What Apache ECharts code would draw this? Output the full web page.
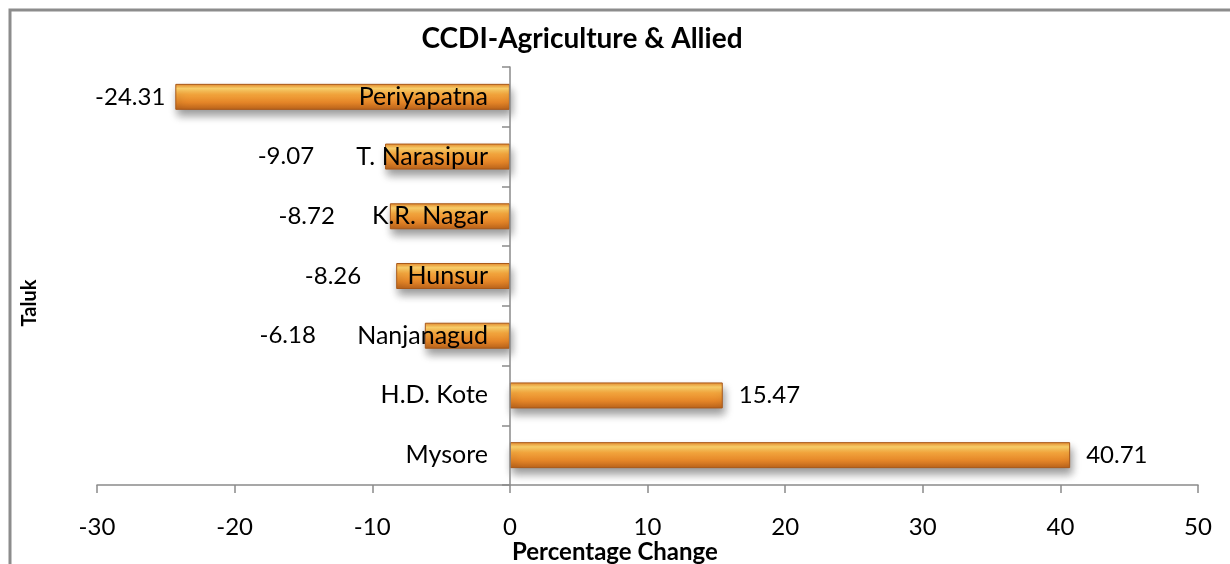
<!DOCTYPE html>
<html>
<head>
<meta charset="utf-8">
<script src="https://cdn.jsdelivr.net/npm/echarts@6/dist/echarts.min.js"></script>
<style>
  html, body { margin: 0; padding: 0; background: #fff; }
  #container { width: 1230px; height: 564px; }
</style>
</head>
<body>
<div id="container"></div>
<script>
// data (bottom to top)
var taluks = ['Mysore', 'H.D. Kote', 'Nanjanagud', 'Hunsur', 'K.R. Nagar', 'T. Narasipur', 'Periyapatna'];
var changes = [40.71, 15.47, -6.18, -8.26, -8.72, -9.07, -24.31];
var xTicks = [-30, -20, -10, 0, 10, 20, 30, 40, 50];

var dom = document.getElementById('container');
var myChart = echarts.init(dom, null, {
  renderer: 'canvas',
  useDirtyRect: false
});

var font = 'Lato, "Open Sans", sans-serif';

// gap between bar end and value label (labels were nudged in the original)
var gaps = { 'Nanjanagud': 109, 'Hunsur': 35, 'K.R. Nagar': 55, 'T. Narasipur': 71, 'Periyapatna': 10 };

var barFill = new echarts.graphic.LinearGradient(0, 0, 0, 1, [
  { offset: 0, color: '#e3862a' },
  { offset: 0.18, color: '#ffd46c' },
  { offset: 0.4, color: '#f7a83e' },
  { offset: 0.72, color: '#e38427' },
  { offset: 1, color: '#b8621b' }
]);

var seriesData = changes.map(function (v, i) {
  var neg = v < 0;
  return {
    value: v,
    label: {
      position: neg ? 'left' : 'right',
      distance: neg ? gaps[taluks[i]] : 16
    }
  };
});

option = {
  animation: false,
  title: {
    text: 'CCDI-Agriculture & Allied',
    left: 577,
    top: 20,
    textAlign: 'center',
    textStyle: { fontFamily: font, fontWeight: 'bold', fontSize: 28, color: '#000' }
  },
  graphic: [
    {
      type: 'rect',
      shape: { x: 10, y: 10, width: 1300, height: 700 },
      style: { fill: 'none', stroke: '#8c8c8c', lineWidth: 3 }
    },
    {
      type: 'text',
      x: 30,
      y: 303,
      rotation: Math.PI / 2,
      style: {
        text: 'Taluk',
        fontFamily: font,
        fontWeight: 'bold',
        fontSize: 20,
        fill: '#000',
        align: 'center',
        verticalAlign: 'middle'
      }
    },
    {
      type: 'text',
      x: 512,
      y: 552,
      style: {
        text: 'Percentage Change',
        fontFamily: font,
        fontWeight: 'bold',
        fontSize: 24,
        fill: '#000',
        align: 'left',
        verticalAlign: 'middle'
      }
    }
  ],
  grid: {
    left: 97,
    right: 32,
    top: 67,
    bottom: 79,
    outerBoundsMode: 'none',
    containLabel: false
  },
  xAxis: {
    type: 'value',
    min: -30,
    max: 50,
    interval: 10,
    splitLine: { show: false },
    axisLine: { show: true, lineStyle: { color: '#8a8a8a', width: 1.5 } },
    axisTick: { show: true, length: 8, lineStyle: { color: '#8a8a8a', width: 1.5 } },
    axisLabel: {
      margin: 30,
      fontFamily: font,
      fontSize: 24,
      color: '#000',
      customValues: xTicks
    }
  },
  yAxis: {
    type: 'category',
    data: taluks,
    z: 5,
    // put the axis at x = 0 of the value axis (0 sits 3/8 of the way across)
    offset: -413,
    axisLine: { show: true, onZero: false, lineStyle: { color: '#8a8a8a', width: 1.5 } },
    axisTick: { show: true, length: 8, lineStyle: { color: '#8a8a8a', width: 1.5 } },
    axisLabel: {
      margin: 22,
      fontFamily: font,
      fontSize: 25,
      color: '#000'
    }
  },
  series: [
    {
      type: 'bar',
      data: seriesData,
      barWidth: 26,
      itemStyle: {
        color: barFill,
        borderColor: '#a8591a',
        borderWidth: 1,
        shadowColor: 'rgba(0,0,0,0.4)',
        shadowBlur: 9,
        shadowOffsetX: 2,
        shadowOffsetY: 6
      },
      label: {
        show: true,
        fontFamily: font,
        fontSize: 24,
        color: '#000',
        formatter: function (p) { return p.value.toFixed(2); }
      }
    }
  ]
};

if (option && typeof option === 'object') {
  myChart.setOption(option);
}

window.addEventListener('resize', myChart.resize);
</script>
</body>
</html>
